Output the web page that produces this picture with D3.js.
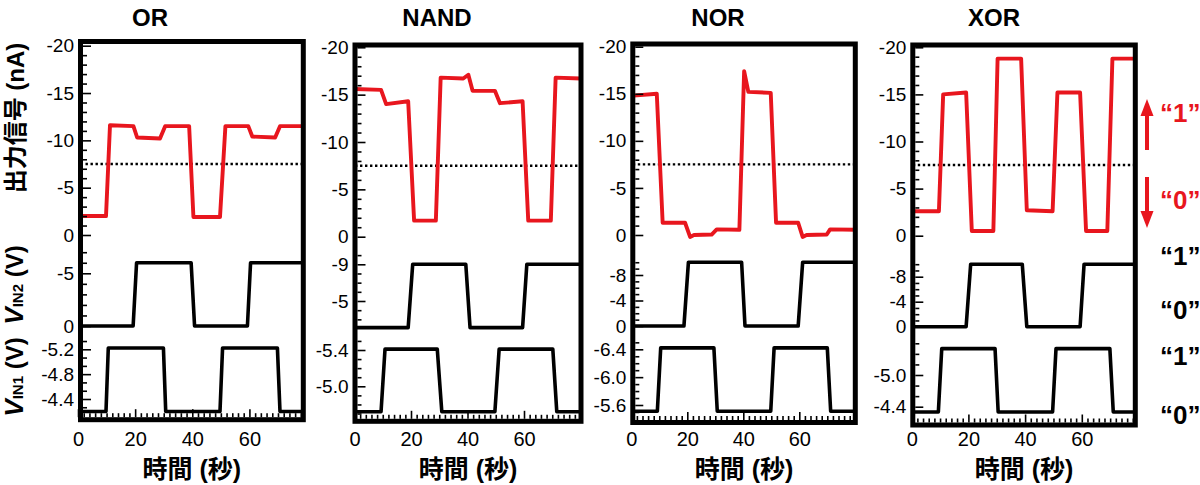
<!DOCTYPE html>
<html><head><meta charset="utf-8">
<script src="https://cdn.jsdelivr.net/npm/d3@7"></script>
<style>body{margin:0;background:#fff} svg{display:block}</style>
</head><body><svg id="chart" width="1200" height="485"></svg>
<script>
// ---------- DATA ----------
const panelTitles = ["OR", "NAND", "NOR", "XOR"];
const xTickValues = [0, 20, 40, 60];
const outTickValues = [-20, -15, -10, -5, 0];
const thresholdValue = -7.5;

// OR
const orOutT = [0, 9.8, 11.2, 19.4, 20.7, 28.7, 30.5, 38.9, 40.4, 49.7, 51.6, 59.6, 61.0, 69.0, 70.7, 80];
const orOutV = [-2.0, -2.0, -11.6, -11.5, -10.3, -10.2, -11.5, -11.5, -1.9, -1.9, -11.5, -11.5, -10.4, -10.3, -11.5, -11.5];
const orVin2T = [0, 19.3, 20.5, 39.6, 40.8, 59.3, 60.4, 80];
const orVin2V = [0, 0, -6, -6, 0, 0, -6, -6];
const orVin1T = [0, 9.8, 10.6, 29.9, 30.7, 49.7, 50.6, 69.8, 70.7, 80];
const orVin1V = [-4.2, -4.2, -5.22, -5.22, -4.2, -4.2, -5.22, -5.22, -4.2, -4.2];
const orVin2Ticks = [-5, 0];
const orVin1Ticks = [-5.2, -4.8, -4.4];

// NAND
const nandOutT = [0, 9.4, 11.2, 19.0, 21.1, 28.8, 30.5, 38.5, 40.3, 41.8, 49.7, 51.5, 59.5, 61.5, 69.5, 71.2, 80];
const nandOutV = [-15.6, -15.5, -14.0, -14.3, -1.7, -1.7, -16.8, -16.7, -17.1, -15.4, -15.4, -14.1, -14.3, -1.7, -1.7, -16.8, -16.7];
const nandVin2T = [0, 19.0, 20.6, 39.4, 40.9, 59.5, 61.0, 80];
const nandVin2V = [-2.1, -2.1, -9, -9, -2.1, -2.1, -9, -9];
const nandVin1T = [0, 9.4, 10.8, 29.3, 30.9, 49.7, 51.2, 70.2, 71.6, 80];
const nandVin1V = [-4.72, -4.72, -5.41, -5.41, -4.72, -4.72, -5.41, -5.41, -4.72, -4.72];
const nandVin2Ticks = [-9, -5];
const nandVin1Ticks = [-5.4, -5.0];

// NOR
const norOutT = [0, 0.8, 9.1, 11.2, 19.2, 21.0, 22.4, 28.7, 30.5, 38.6, 40.3, 41.8, 49.8, 51.7, 59.6, 61.2, 62.6, 69.8, 71.0, 80];
const norOutV = [-15.4, -14.8, -15.0, -1.3, -1.3, 0.2, 0.0, -0.05, -0.6, -0.55, -17.4, -15.2, -15.1, -1.3, -1.3, 0.2, 0.0, -0.05, -0.6, -0.55];
const norVin2T = [0, 18.8, 20.4, 39.4, 40.6, 59.6, 61.2, 80];
const norVin2V = [0, 0, -10, -10, 0, 0, -10, -10];
const norVin1T = [0, 9.3, 10.5, 29.5, 30.7, 49.8, 51.0, 70.0, 71.2, 80];
const norVin1V = [-5.51, -5.51, -6.42, -6.42, -5.51, -5.51, -6.42, -6.42, -5.51, -5.51];
const norVin2Ticks = [-8, -4, 0];
const norVin1Ticks = [-6.4, -6.0, -5.6];

// XOR
const xorOutT = [0, 9.6, 11.1, 19.2, 21.2, 28.8, 30.3, 38.6, 40.6, 49.7, 51.4, 59.4, 61.5, 69.0, 70.8, 80];
const xorOutV = [-2.6, -2.6, -15.0, -15.2, -0.5, -0.5, -18.8, -18.8, -2.7, -2.6, -15.2, -15.2, -0.5, -0.5, -18.8, -18.8];
const xorVin2T = [0, 19.2, 20.8, 39.0, 40.6, 59.4, 60.8, 80];
const xorVin2V = [0, 0, -10, -10, 0, 0, -10, -10];
const xorVin1T = [0, 9.4, 10.6, 29.4, 30.5, 49.7, 50.9, 69.9, 71.1, 80];
const xorVin1V = [-4.3, -4.3, -5.5, -5.5, -4.3, -4.3, -5.5, -5.5, -4.3, -4.3];
const xorVin2Ticks = [-8, -4, 0];
const xorVin1Ticks = [-5.0, -4.4];

const stateLabels = ["\u201C1\u201D", "\u201C0\u201D", "\u201C1\u201D", "\u201C0\u201D", "\u201C1\u201D", "\u201C0\u201D"];

// ---------- LAYOUT ----------
const layout = [
  {L:80.5, R:303.3, top:41.5, bottom:419.7, x0:78, s:2.857, out0:235, out20:45.7,
   v2d:[0,-5], v2r:[326,273.3], v1d:[-5.2,-4.4], v1r:[349.3,399], v1dec:1, titleX:150,
   v2minor:[-7,-6,-4,-3,-2,-1], v1minor:[-5.333,-5.067,-4.933,-4.667,-4.533,-4.267]},
  {L:355, R:581, top:45, bottom:421.3, x0:354.5, s:2.825, out0:236.7, out20:47.3,
   v2d:[-9,-5], v2r:[264.3,301], v1d:[-5.4,-5.0], v1r:[350,386.3], v1dec:1, titleX:437,
   v2minor:[-10,-8,-7,-6,-4,-3], v1minor:[-5.5,-5.3,-5.2,-5.1,-4.9,-4.8,-4.7]},
  {L:632.8, R:855.3, top:44, bottom:422.5, x0:631.3, s:2.8, out0:235, out20:46.7,
   v2d:[0,-8], v2r:[326,275], v1d:[-6.4,-5.6], v1r:[349.3,405], v1dec:1, titleX:718,
   v2minor:[-10,-9,-7,-6,-5,-3,-2,-1], v1minor:[-6.5,-6.3,-6.2,-6.1,-5.9,-5.8,-5.7,-5.5]},
  {L:912.8, R:1135.3, top:45, bottom:425, x0:911.7, s:2.835, out0:235.7, out20:47.3,
   v2d:[0,-8], v2r:[326.7,276.7], v1d:[-5.0,-4.4], v1r:[375,406.7], v1dec:1, titleX:994,
   v2minor:[-10,-9,-7,-6,-5,-3,-2,-1], v1minor:[-5.6,-5.4,-5.2,-4.8,-4.6]}
];

const series = [
  {outT:orOutT, outV:orOutV, v2T:orVin2T, v2V:orVin2V, v1T:orVin1T, v1V:orVin1V, v2Ticks:orVin2Ticks, v1Ticks:orVin1Ticks},
  {outT:nandOutT, outV:nandOutV, v2T:nandVin2T, v2V:nandVin2V, v1T:nandVin1T, v1V:nandVin1V, v2Ticks:nandVin2Ticks, v1Ticks:nandVin1Ticks},
  {outT:norOutT, outV:norOutV, v2T:norVin2T, v2V:norVin2V, v1T:norVin1T, v1V:norVin1V, v2Ticks:norVin2Ticks, v1Ticks:norVin1Ticks},
  {outT:xorOutT, outV:xorOutV, v2T:xorVin2T, v2V:xorVin2V, v1T:xorVin1T, v1V:xorVin1V, v2Ticks:xorVin2Ticks, v1Ticks:xorVin1Ticks}
];

const FONT = "'Liberation Sans', Arial, 'Noto Sans CJK JP', sans-serif";
const RED = "#e8161e";
const FRAME_W = 5;
const TICK_FS = 19;
const svg = d3.select("#chart").style("font-family", FONT);

const fmt = dec => d => (d < 0 ? "-" : "") + Math.abs(d).toFixed(dec);

function styleAxis(g, size) {
  g.select(".domain").remove();
  g.selectAll(".tick line").attr("stroke", "#000").attr("stroke-width", 1.6);
  g.selectAll(".tick text").attr("fill", "#000").style("font-size", size + "px").style("font-family", FONT);
}

layout.forEach((p, i) => {
  const s = series[i];
  const g = svg.append("g");
  const x = d3.scaleLinear().domain([0, 80]).range([p.x0, p.x0 + 80 * p.s]);
  const yOut = d3.scaleLinear().domain([0, -20]).range([p.out0, p.out20]);
  const yV2 = d3.scaleLinear().domain(p.v2d).range(p.v2r);
  const yV1 = d3.scaleLinear().domain(p.v1d).range(p.v1r);

  const cid = "clip" + i;
  svg.append("clipPath").attr("id", cid).append("rect")
    .attr("x", p.L).attr("y", p.top).attr("width", p.R - p.L).attr("height", p.bottom - p.top);
  const inner = g.append("g").attr("clip-path", `url(#${cid})`);

  // threshold dotted line
  inner.append("line")
    .attr("x1", p.L).attr("x2", p.R)
    .attr("y1", yOut(thresholdValue)).attr("y2", yOut(thresholdValue))
    .attr("stroke", "#000").attr("stroke-width", 2.4).attr("stroke-dasharray", "2.4,2.6");

  const mk = (ys) => d3.line().x(d => x(d[0])).y(d => ys(d[1]));
  inner.append("path").datum(d3.zip(s.v2T, s.v2V)).attr("d", mk(yV2))
    .attr("fill", "none").attr("stroke", "#000").attr("stroke-width", 3.6).attr("stroke-linejoin", "round");
  inner.append("path").datum(d3.zip(s.v1T, s.v1V)).attr("d", mk(yV1))
    .attr("fill", "none").attr("stroke", "#000").attr("stroke-width", 3.6).attr("stroke-linejoin", "round");
  inner.append("path").datum(d3.zip(s.outT, s.outV)).attr("d", mk(yOut))
    .attr("fill", "none").attr("stroke", RED).attr("stroke-width", 3.9).attr("stroke-linejoin", "round");

  // left axes (ticks inward)
  const ax = p.L + FRAME_W / 2;
  const pad = 9;
  const outMinor = d3.range(-19, 0).filter(v => v % 5 !== 0);
  g.append("g").attr("transform", `translate(${ax},0)`)
    .call(d3.axisLeft(yOut).tickValues(outMinor).tickSize(-4).tickFormat(""))
    .call(a => styleAxis(a, TICK_FS));
  g.append("g").attr("transform", `translate(${ax},0)`)
    .call(d3.axisLeft(yOut).tickValues(outTickValues).tickSize(-8).tickPadding(pad).tickFormat(fmt(0)))
    .call(a => styleAxis(a, TICK_FS));
  g.append("g").attr("transform", `translate(${ax},0)`)
    .call(d3.axisLeft(yV2).tickValues(p.v2minor).tickSize(-4).tickFormat(""))
    .call(a => styleAxis(a, TICK_FS));
  g.append("g").attr("transform", `translate(${ax},0)`)
    .call(d3.axisLeft(yV2).tickValues(s.v2Ticks).tickSize(-8).tickPadding(pad).tickFormat(fmt(0)))
    .call(a => styleAxis(a, TICK_FS));
  g.append("g").attr("transform", `translate(${ax},0)`)
    .call(d3.axisLeft(yV1).tickValues(p.v1minor).tickSize(-4).tickFormat(""))
    .call(a => styleAxis(a, TICK_FS));
  g.append("g").attr("transform", `translate(${ax},0)`)
    .call(d3.axisLeft(yV1).tickValues(s.v1Ticks).tickSize(-8).tickPadding(pad).tickFormat(fmt(p.v1dec)))
    .call(a => styleAxis(a, TICK_FS));

  // bottom axis (ticks inward)
  const by = p.bottom - FRAME_W / 2;
  const xMinor = d3.range(2, 80, 2).filter(v => v % 20 !== 0);
  g.append("g").attr("transform", `translate(0,${by})`)
    .call(d3.axisBottom(x).tickValues(xMinor).tickSize(-4).tickFormat(""))
    .call(a => styleAxis(a, 20));
  g.append("g").attr("transform", `translate(0,${by})`)
    .call(d3.axisBottom(x).tickValues(xTickValues).tickSize(-8).tickPadding(432 - by).tickFormat(d3.format("d")))
    .call(a => styleAxis(a, 20));

  // frame
  g.append("rect").attr("x", p.L).attr("y", p.top)
    .attr("width", p.R - p.L).attr("height", p.bottom - p.top)
    .attr("fill", "none").attr("stroke", "#000").attr("stroke-width", FRAME_W);

  // title
  svg.append("text").attr("x", p.titleX).attr("y", 26).attr("text-anchor", "middle")
    .style("font-weight", "bold").style("font-size", "24px").text(panelTitles[i]);

  // x label
  svg.append("text").attr("x", (p.L + p.R) / 2).attr("y", 478).attr("text-anchor", "middle")
    .style("font-weight", "bold").style("font-size", "25px").text("時間 (秒)");
});

// y-axis titles
svg.append("text").attr("transform", "translate(15,118) rotate(-90)")
  .attr("text-anchor", "middle").attr("dominant-baseline", "central")
  .style("font-weight", "bold").style("font-size", "24px").text("出力信号 (nA)");

function vinLabel(cx, cy, sub) {
  const t = svg.append("text").attr("transform", `translate(${cx},${cy}) rotate(-90)`)
    .attr("text-anchor", "middle").attr("dominant-baseline", "central")
    .style("font-weight", "bold").style("font-size", "24px");
  t.append("tspan").style("font-style", "italic").style("font-size", "26px").text("V");
  t.append("tspan").style("font-size", "15px").attr("dy", 3).text(sub);
  t.append("tspan").attr("dy", -3).text(" (V)");
}
vinLabel(14, 285, "IN2");
vinLabel(14, 377, "IN1");

// right-side state labels
const labelYs = [113, 200, 256, 310, 356, 415];
stateLabels.forEach((lbl, k) => {
  svg.append("text").attr("x", 1160).attr("y", labelYs[k]).attr("dominant-baseline", "central")
    .attr("fill", k < 2 ? RED : "#000")
    .style("font-weight", "bold").style("font-size", "26px").text(lbl);
});

// red arrows
svg.append("line").attr("x1", 1147).attr("x2", 1147).attr("y1", 150).attr("y2", 112)
  .attr("stroke", RED).attr("stroke-width", 4);
svg.append("path").attr("d", "M1147,99 L1140.5,116 L1153.5,116 Z").attr("fill", RED);
svg.append("line").attr("x1", 1147).attr("x2", 1147).attr("y1", 177).attr("y2", 214)
  .attr("stroke", RED).attr("stroke-width", 4);
svg.append("path").attr("d", "M1147,228 L1140.5,211 L1153.5,211 Z").attr("fill", RED);
</script>
</body></html>
